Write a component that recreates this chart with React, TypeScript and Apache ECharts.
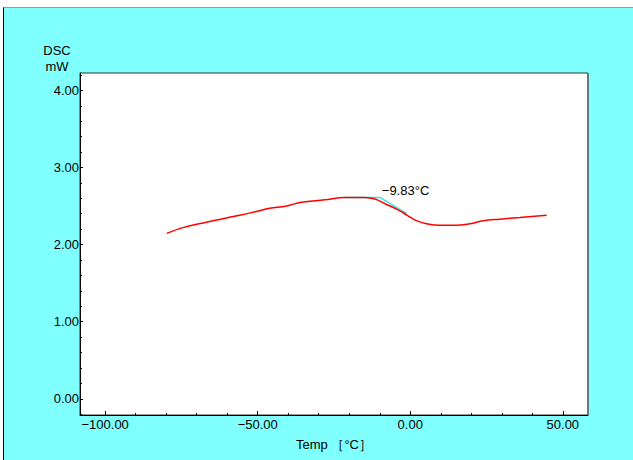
import React, { useEffect, useRef } from "react";
import * as echarts from "echarts";

// Measured DSC curve: [temperature °C, heat flow mW]
const temps = [-79.8, -74.5, -66.8, -59.7, -55.9, -50.4, -46.1, -40.6, -35.7, -28, -21.5, -14.9, -11.6, -8.3, -4, -1, 2, 5.3, 9.7, 14.1, 19.6, 23.9, 29.4, 35.9, 44.7];
const dsc = [2.145, 2.22, 2.29, 2.35, 2.38, 2.43, 2.47, 2.5, 2.55, 2.58, 2.61, 2.61, 2.59, 2.53, 2.45, 2.38, 2.31, 2.27, 2.25, 2.25, 2.27, 2.31, 2.33, 2.35, 2.38];

// Onset tangent construction
const tangentTemps = [-21.5, -9.83, -1.2];
const tangentValues = [2.61, 2.61, 2.4];
const onsetLabel = "−9.83°C";

const xMajorTicks = [-100, -50, 0, 50];
const xMinorTicks = [-90, -80, -70, -60, -40, -30, -20, -10, 10, 20, 30, 40];
const yMajorTicks = [0, 1, 2, 3, 4];
const yMinorTicks = [-0.2, 0.2, 0.4, 0.6, 0.8, 1.2, 1.4, 1.6, 1.8, 2.2, 2.4, 2.6, 2.8, 3.2, 3.4, 3.6, 3.8, 4.2];

const X_MIN = -108.25;
const X_MAX = 58.25;
const Y_MIN = -0.21;
const Y_MAX = 4.225;

const FONT = "Liberation Sans, Arial, sans-serif";
const fmt = (v: number) => v.toFixed(2).replace("-", "−");

export default function App() {
  const ref = useRef<HTMLDivElement>(null);

  useEffect(() => {
    if (!ref.current) return;
    const chart = echarts.init(ref.current, null, { renderer: "svg" });
    const baseX = { type: "value", min: X_MIN, max: X_MAX, gridIndex: 0, splitLine: { show: false } };
    const baseY = { type: "value", min: Y_MIN, max: Y_MAX, gridIndex: 0, splitLine: { show: false } };
    chart.setOption({
      animation: false,
      grid: {
        left: 80,
        top: 73,
        width: 508,
        height: 342,
        show: true,
        backgroundColor: "#ffffff",
        borderColor: "#303030",
        borderWidth: 1,
      },
      xAxis: [
        {
          ...baseX,
          position: "bottom",
          axisLine: { show: true, onZero: false, lineStyle: { color: "#000", width: 1 } },
          axisTick: { show: true, inside: true, length: 4, customValues: xMajorTicks, lineStyle: { color: "#000" } },
          axisLabel: {
            customValues: xMajorTicks,
            formatter: fmt,
            color: "#000",
            fontSize: 13,
            fontFamily: FONT,
            margin: 3,
            showMinLabel: true,
            showMaxLabel: true,
          },
          name: "Temp ［°C］",
          nameLocation: "middle",
          nameGap: 23,
          nameTextStyle: { color: "#000", fontSize: 13, fontFamily: FONT },
        },
        {
          ...baseX,
          position: "bottom",
          axisLine: { show: false, onZero: false },
          axisTick: { show: true, inside: true, length: 2, customValues: xMinorTicks, lineStyle: { color: "#000" } },
          axisLabel: { show: false },
        },
      ],
      yAxis: [
        {
          ...baseY,
          position: "left",
          axisLine: { show: true, onZero: false, lineStyle: { color: "#000", width: 1 } },
          axisTick: { show: true, inside: true, length: 3, customValues: yMajorTicks, lineStyle: { color: "#000" } },
          axisLabel: {
            customValues: yMajorTicks,
            formatter: fmt,
            color: "#000",
            fontSize: 13,
            fontFamily: FONT,
            margin: 1,
          },
        },
        {
          ...baseY,
          position: "left",
          axisLine: { show: false, onZero: false },
          axisTick: { show: true, inside: true, length: 2, customValues: yMinorTicks, lineStyle: { color: "#000" } },
          axisLabel: { show: false },
        },
      ],
      graphic: [
        {
          type: "line",
          shape: { x1: 588, y1: 73, x2: 588, y2: 415 },
          style: { stroke: "#5f7f7f", lineWidth: 2 },
          z: 10,
        },
        {
          type: "text",
          x: 57,
          y: 50,
          style: { text: "DSC", fill: "#000", font: `13px ${FONT}`, align: "center", verticalAlign: "middle" },
        },
        {
          type: "text",
          x: 57,
          y: 66,
          style: { text: "mW", fill: "#000", font: `13px ${FONT}`, align: "center", verticalAlign: "middle" },
        },
      ],
      series: [
        {
          type: "line",
          xAxisIndex: 0,
          yAxisIndex: 0,
          data: temps.map((t, i) => [t, dsc[i]]),
          showSymbol: false,
          smooth: 0.4,
          lineStyle: { color: "#ff0000", width: 1.5 },
          z: 3,
        },
        {
          type: "line",
          xAxisIndex: 0,
          yAxisIndex: 0,
          data: tangentTemps.map((t, i) => ({
            value: [t, tangentValues[i]],
            label:
              i === 1
                ? {
                    show: true,
                    formatter: onsetLabel,
                    position: "right",
                    distance: 1,
                    offset: [0, -7],
                    color: "#000",
                    fontSize: 13,
                    fontFamily: FONT,
                  }
                : { show: false },
          })),
          showSymbol: true,
          showAllSymbol: true,
          symbol: "circle",
          symbolSize: 1,
          itemStyle: { color: "rgba(0,0,0,0)" },
          lineStyle: { color: "#33e0e0", width: 1.5 },
          z: 2,
        },
      ],
    });
    return () => chart.dispose();
  }, []);

  return (
    <>
      <div
        style={{
          position: "fixed",
          left: 3,
          top: 7,
          right: 0,
          bottom: 0,
          background: "#80ffff",
          borderTop: "1px solid #9a9a9a",
          borderLeft: "1px solid #000",
        }}
      />
      <div ref={ref} style={{ position: "fixed", left: 0, top: 0, width: 633, height: 460 }} />
    </>
  );
}
